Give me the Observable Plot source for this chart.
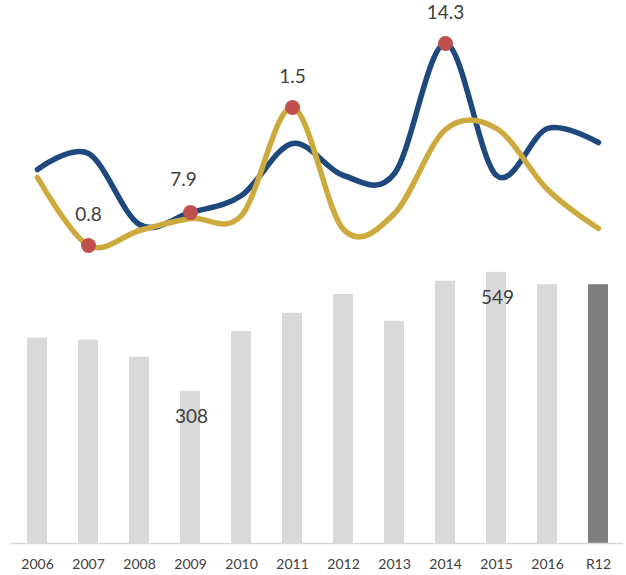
<!DOCTYPE html>
<html>
<head>
<meta charset="utf-8">
<script src="https://cdn.jsdelivr.net/npm/d3@7"></script>
<script src="https://cdn.jsdelivr.net/npm/@observablehq/plot@0.6"></script>
<style>
  html, body { margin: 0; padding: 0; background: #fff; }
  #chart { width: 626px; }
  #chart svg { display: block; }
</style>
</head>
<body>
<div id="chart"></div>
<script>
// Categories
const years = ["2006","2007","2008","2009","2010","2011","2012","2013","2014","2015","2016","R12"];
// Bar values
const sales = [416, 412, 377, 308, 429, 466, 504, 450, 531, 549, 524, 524];
// Line series (index units)
const blueLine = [91, 107, 36, 48, 65, 117, 85, 87, 217, 85, 132, 118];
const goldLine = [83, 15, 30, 42, 45, 153, 31, 47, 131, 132, 71, 32];
// Highlighted points with their labels
const markerYears = ["2007", "2009", "2011", "2014"];
const markerSeries = ["gold", "blue", "gold", "blue"];
const markerLabels = ["0.8", "7.9", "1.5", "14.3"];
// Bar labels
const barLabelYears = ["2009", "2015"];

const blueData = years.map((y, i) => ({year: y, v: blueLine[i]}));
const goldData = years.map((y, i) => ({year: y, v: goldLine[i]}));
const markers = markerYears.map((y, i) => {
  const idx = years.indexOf(y);
  return {year: y, v: markerSeries[i] === "blue" ? blueLine[idx] : goldLine[idx], label: markerLabels[i]};
});
const bars = years.map((y, i) => ({year: y, value: sales[i], last: y === "R12"}));
const barLabels = barLabelYears.map(y => ({year: y, value: sales[years.indexOf(y)]}));

const font = "Lato, 'Open Sans', sans-serif";
const BLUE = "#1F497D", GOLD = "#CDAA3D", RED = "#C0504D";

const linePlot = Plot.plot({
  width: 626,
  height: 260,
  marginLeft: 11,
  marginRight: 3,
  marginTop: 0,
  marginBottom: 0,
  style: {fontFamily: font, background: "transparent", overflow: "visible"},
  x: {type: "point", domain: years, padding: 0.5, axis: null},
  y: {domain: [0, 260], axis: null},
  marks: [
    Plot.line(blueData, {x: "year", y: "v", curve: "cardinal", stroke: BLUE, strokeWidth: 5.5, strokeLinecap: "round"}),
    Plot.line(goldData, {x: "year", y: "v", curve: "cardinal", stroke: GOLD, strokeWidth: 5.5, strokeLinecap: "round"}),
    Plot.dot(markers, {x: "year", y: "v", r: 7.5, fill: RED, stroke: "none"}),
    Plot.text(markers.filter(d => d.year !== "2009"), {x: "year", y: "v", text: "label", dy: -31, fontSize: 19, fill: "#404040"}),
    Plot.text(markers.filter(d => d.year === "2009"), {x: "year", y: "v", text: "label", dy: -33, dx: -7, fontSize: 19, fill: "#404040"})
  ]
});

const barPlot = Plot.plot({
  width: 626,
  height: 315,
  marginLeft: 11,
  marginRight: 3,
  marginTop: 0,
  marginBottom: 32,
  style: {fontFamily: font, background: "transparent", overflow: "visible"},
  x: {type: "band", domain: years, paddingInner: 0.61, paddingOuter: 0.305, label: null, tickSize: 0, tickPadding: 16},
  y: {domain: [0, 573], axis: null},
  marks: [
    Plot.barY(bars, {x: "year", y: "value", fill: d => d.last ? "#7F7F7F" : "#D9D9D9"}),
    Plot.ruleY([0], {stroke: "#D9D9D9", strokeWidth: 1.5}),
    Plot.text(barLabels, {x: "year", y: "value", text: d => String(d.value), dy: 26, dx: 1, fontSize: 19, fill: "#404040"}),
    Plot.axisX({tickSize: 0, tickPadding: 16, fontSize: 14, fill: "#404040", label: null})
  ]
});

document.getElementById("chart").append(linePlot, barPlot);
</script>
</body>
</html>
